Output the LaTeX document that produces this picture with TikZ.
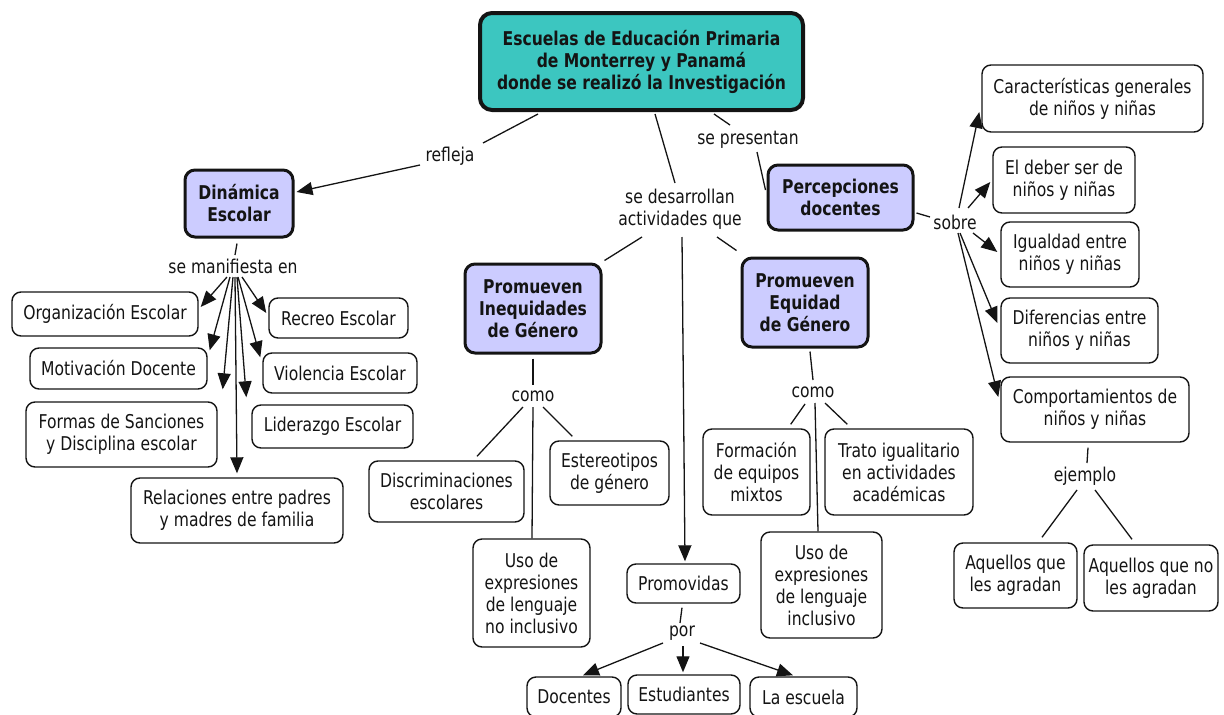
\documentclass[tikz,border=0pt]{standalone}
\usepackage{fontspec}
\setmainfont{DejaVu Sans}[FakeStretch=0.82]
\usetikzlibrary{arrows.meta,calc}
\definecolor{rootfill}{RGB}{60,198,192}
\definecolor{conceptfill}{RGB}{204,204,255}
\definecolor{ink}{RGB}{20,20,20}

\begin{document}
\begin{tikzpicture}[x=1pt,y=-1pt,
  every node/.style={font=\fontsize{19}{22}\selectfont, text=ink, align=center, inner sep=0pt},
  wbox/.style={draw=ink, line width=1.4pt, rounded corners=9pt, fill=white},
  cbox/.style={draw=ink, line width=3pt, rounded corners=10pt, fill=conceptfill,
               font=\fontsize{19}{22}\selectfont\bfseries},
  rbox/.style={draw=ink, line width=4pt, rounded corners=12pt, fill=rootfill,
               font=\fontsize{19}{22}\selectfont\bfseries},
  phrase/.style={inner sep=1pt},
  link/.style={draw=ink, line width=1.3pt},
  arrowlink/.style={link, -{Triangle[length=16pt,width=13pt]}},
]
\useasboundingbox (0,0) rectangle (1224,715);

% ---- main concept boxes ----
\node[rbox, minimum width=323, minimum height=97] (root) at (641.5,61.5)
  {Escuelas de Educación Primaria\\de Monterrey y Panamá\\donde se realizó la Investigación};
\node[cbox, minimum width=108, minimum height=67] (din) at (239,203.5) {Dinámica\\Escolar};
\node[cbox, minimum width=145, minimum height=65] (perc) at (840.5,197.5) {Percepciones\\docentes};
\node[cbox, minimum width=136, minimum height=89] (ineq) at (533,308.5) {Promueven\\Inequidades\\de Género};
\node[cbox, minimum width=126, minimum height=89] (equ) at (805,302.5) {Promueven\\Equidad\\de Género};

% ---- school dynamics ----
\node[wbox, minimum width=186, minimum height=44] (org) at (105,314) {Organización Escolar};
\node[wbox, minimum width=139, minimum height=40] (recreo) at (338.5,318) {Recreo Escolar};
\node[wbox, minimum width=177, minimum height=41] (motiv) at (118.5,368.5) {Motivación Docente};
\node[wbox, minimum width=154, minimum height=40] (viol) at (340,373) {Violencia Escolar};
\node[wbox, minimum width=191, minimum height=65] (formas) at (121.5,434.5) {Formas de Sanciones\\y Disciplina escolar};
\node[wbox, minimum width=161, minimum height=43] (lider) at (332.5,426.5) {Liderazgo Escolar};
\node[wbox, minimum width=212, minimum height=65] (relac) at (237,510.5) {Relaciones entre padres\\y madres de familia};

% ---- inequity ----
\node[wbox, minimum width=155, minimum height=61] (discr) at (446.5,491.5) {Discriminaciones\\escolares};
\node[wbox, minimum width=119, minimum height=64] (ester) at (609.5,473) {Estereotipos\\de género};
\node[wbox, minimum width=117, minimum height=108] (usono) at (531.5,593) {Uso de\\expresiones\\de lenguaje\\no inclusivo};

% ---- promoted by ----
\node[wbox, minimum width=113, minimum height=39] (promov) at (683.5,583.5) {Promovidas};
\node[wbox, minimum width=94, minimum height=40] (doc) at (574,697) {Docentes};
\node[wbox, minimum width=112, minimum height=39] (estud) at (684,694.5) {Estudiantes};
\node[wbox, minimum width=107, minimum height=40] (escuela) at (803.5,697) {La escuela};

% ---- equity ----
\node[wbox, minimum width=107, minimum height=86] (form) at (756.5,472) {Formación\\de equipos\\mixtos};
\node[wbox, minimum width=148, minimum height=86] (trato) at (899,472) {Trato igualitario\\en actividades\\académicas};
\node[wbox, minimum width=121, minimum height=106] (usoin) at (821.5,585) {Uso de\\expresiones\\de lenguaje\\inclusivo};

% ---- teachers' perceptions ----
\node[wbox, minimum width=221, minimum height=67] (carac) at (1092.5,98.5) {Características generales\\de niños y niñas};
\node[wbox, minimum width=142, minimum height=66] (deber) at (1064,180) {El deber ser de\\niños y niñas};
\node[wbox, minimum width=138, minimum height=65] (igual) at (1070,254.5) {Igualdad entre\\niños y niñas};
\node[wbox, minimum width=157, minimum height=65] (difer) at (1079.5,330.5) {Diferencias entre\\niños y niñas};
\node[wbox, minimum width=188, minimum height=65] (comp) at (1095,409.5) {Comportamientos de\\niños y niñas};
\node[wbox, minimum width=123, minimum height=65] (aq) at (1015.5,575.5) {Aquellos que\\les agradan};
\node[wbox, minimum width=134, minimum height=66] (aqn) at (1151,578) {Aquellos que no\\les agradan};

% ---- linking phrases ----
\node[phrase] (refleja) at (450,156) {refleja};
\node[phrase] (presentan) at (748,140) {se presentan};
\node[phrase] (desarr) at (680,209) {se desarrollan\\actividades que};
\node[phrase] (manif) at (233,266) {se manifiesta en};
\node[phrase] (como1) at (533,396) {como};
\node[phrase] (como2) at (813,392) {como};
\node[phrase] (sobre) at (955,222) {sobre};
\node[phrase] (ejemplo) at (1085,476) {ejemplo};
\node[phrase] (por) at (682,633) {por};

% ---- connectors: root ----
\draw[link] ($(root.south west)+(60,2)$) -- ($(refleja.center)+(33,-13)$);
\draw[arrowlink] ($(refleja.center)+(-30,9)$) -- ($(din.east)+(2,-11.5)$);
\draw[link] ($(root.south)+(13.5,2)$) -- ($(desarr.center)+(-5,-26)$);
\draw[link] ($(root.south east)+(-91,2)$) -- ($(presentan.center)+(-18,-15)$);
\draw[link] ($(presentan.center)+(9,12)$) -- ($(perc.west)+(-1,-7.5)$);

% ---- connectors: school dynamics ----
\draw[link] ($(din.south)+(-2,5)$) -- ($(manif.center)+(2,-11)$);
\draw[arrowlink] ($(manif.center)+(-6,11)$) -- ($(org.east)+(2,-7)$);
\draw[arrowlink] ($(manif.center)+(-3,11)$) -- ($(motiv.north east)+(2,3)$);
\draw[arrowlink] ($(manif.center)+(0,11)$) -- ($(formas.north east)+(5,-12)$);
\draw[arrowlink] ($(manif.center)+(2,11)$) -- ($(relac.north)+(0,-4)$);
\draw[arrowlink] ($(manif.center)+(4,11)$) -- ($(lider.north west)+(-5,-7)$);
\draw[arrowlink] ($(manif.center)+(5,11)$) -- ($(viol.north west)+(-2,5)$);
\draw[arrowlink] ($(manif.center)+(9,11)$) -- ($(recreo.west)+(-2,-5)$);

% ---- connectors: activities ----
\draw[link] ($(desarr.center)+(-38,28)$) -- ($(ineq.north east)+(2,-2)$);
\draw[link] ($(desarr.center)+(37,28)$) -- ($(equ.north west)+(-4,-6)$);
\draw[arrowlink] ($(desarr.center)+(2,28)$) -- ($(promov.north)+(1.5,-2)$);

\draw[link] ($(ineq.south)+(0,4)$) -- ($(como1.center)+(0,-11)$);
\draw[link] ($(como1.center)+(-10,11)$) -- ($(discr.north)+(30.5,-4)$);
\draw[link] ($(como1.center)+(10,11)$) -- ($(ester.north west)+(23,-4)$);
\draw[link] ($(como1.center)+(0,11)$) -- ($(usono.north)+(0.5,0)$);

\draw[link] ($(equ.south)+(5,3)$) -- ($(como2.center)+(0,-12)$);
\draw[link] ($(como2.center)+(-8,12)$) -- ($(form.north east)+(-20,-4)$);
\draw[link] ($(como2.center)+(12,11)$) -- ($(trato.north west)+(23,-4)$);
\draw[link] ($(como2.center)+(2,11)$) -- ($(usoin.north)+(-3.5,0)$);

\draw[link] ($(promov.south)+(-1.5,4)$) -- ($(por.center)+(-2,-10)$);
\draw[arrowlink] ($(por.center)+(-19,10)$) -- ($(doc.north)+(9,-1)$);
\draw[arrowlink] ($(por.center)+(1,13)$) -- ($(estud.north)+(-1,-2)$);
\draw[arrowlink] ($(por.center)+(18,10)$) -- ($(escuela.north)+(-10.5,-1)$);

% ---- connectors: perceptions ----
\draw[link] ($(perc.east)+(2,15.5)$) -- ($(sobre.center)+(-25,-5)$);
\draw[arrowlink] ($(sobre.center)+(4,-14)$) -- ($(carac.west)+(-2,13.5)$);
\draw[arrowlink] ($(sobre.center)+(13,-14)$) -- ($(deber.west)+(-2,2)$);
\draw[arrowlink] ($(sobre.center)+(18,11)$) -- ($(igual.west)+(-3,-2.5)$);
\draw[arrowlink] ($(sobre.center)+(5,11)$) -- ($(difer.west)+(-3,-7.5)$);
\draw[arrowlink] ($(sobre.center)+(3,11)$) -- ($(comp.west)+(-2,-12.5)$);

\draw[link] ($(comp.south)+(-7,5)$) -- ($(ejemplo.center)+(2,-13)$);
\draw[link] ($(ejemplo.center)+(-8,14)$) -- ($(aq.north)+(26.5,-5)$);
\draw[link] ($(ejemplo.center)+(10,14)$) -- ($(aqn.north)+(-19,-5)$);
\end{tikzpicture}
\end{document}
